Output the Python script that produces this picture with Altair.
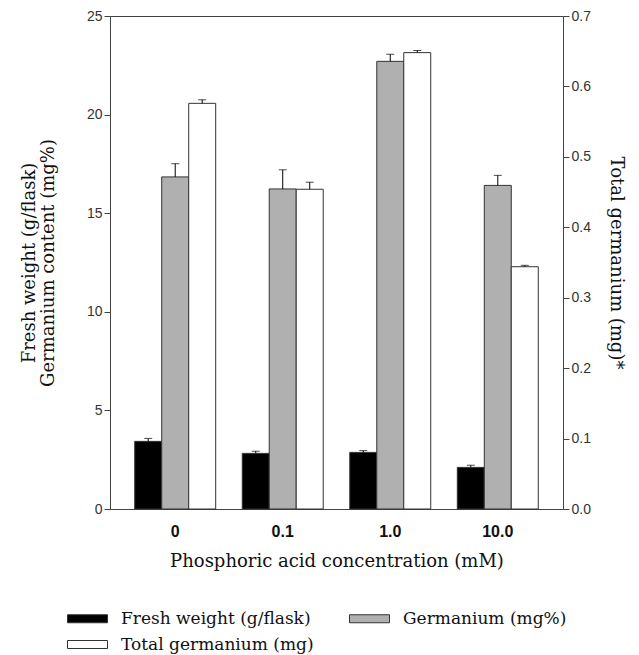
import altair as alt
import pandas as pd

concs = ["0", "0.1", "1.0", "10.0"]
series_names = ["Fresh weight (g/flask)", "Germanium (mg%)", "Total germanium (mg)"]
fresh = [3.43, 2.82, 2.87, 2.11]
fresh_err = [0.15, 0.11, 0.09, 0.11]
germ = [16.84, 16.23, 22.70, 16.41]
germ_err = [0.67, 0.97, 0.36, 0.51]
total = [0.576, 0.454, 0.648, 0.344]
total_err = [0.005, 0.010, 0.003, 0.002]
fill_colors = ["#000000", "#b0b0b0", "#ffffff"]
legend_order = [series_names[0], series_names[2], series_names[1]]

left_rows = []
for i, c in enumerate(concs):
    left_rows.append({"conc": c, "series": series_names[0], "value": fresh[i], "top": fresh[i] + fresh_err[i]})
    left_rows.append({"conc": c, "series": series_names[1], "value": germ[i], "top": germ[i] + germ_err[i]})
right_rows = [{"conc": c, "series": series_names[2], "value": total[i], "top": total[i] + total_err[i]}
              for i, c in enumerate(concs)]
left_df = pd.DataFrame(left_rows)
right_df = pd.DataFrame(right_rows)

x_enc = alt.X("conc:N", sort=concs,
              scale=alt.Scale(paddingInner=0.247, paddingOuter=0.23),
              axis=alt.Axis(title="Phosphoric acid concentration (mM)", labelAngle=0, ticks=False,
                            labelFontWeight="bold", labelFontSize=16, labelColor="#111",
                            labelPadding=14, titlePadding=13))
xo_enc = alt.XOffset("series:N", scale=alt.Scale(domain=series_names, paddingInner=0, paddingOuter=0))
fill_enc = alt.Fill("series:N", scale=alt.Scale(domain=series_names, range=fill_colors),
                    legend=alt.Legend(title=None, orient="none", legendX=-33, legendY=592, columns=2,
                                      values=legend_order,
                                      symbolType="M-2,-0.4L2,-0.4L2,0.4L-2,0.4Z", symbolSize=400,
                                      symbolStrokeColor="#333", symbolStrokeWidth=1,
                                      labelFont="DejaVu Serif", labelFontSize=17, labelColor="#111",
                                      labelOffset=23, columnPadding=33, rowPadding=7,
                                      labelLimit=400))

left_axis = alt.Axis(title=["Fresh weight (g/flask)", "Germanium content (mg%)"], values=[0, 5, 10, 15, 20, 25],
                     orient="left", titlePadding=29, titleLineHeight=19)
left_scale = alt.Scale(domain=[0, 25], nice=False)
right_axis = alt.Axis(title="Total germanium (mg)*", values=[0, 0.1, 0.2, 0.3, 0.4, 0.5, 0.6, 0.7],
                      format=".1f", orient="right", titlePadding=16, titleFontSize=18)
right_scale = alt.Scale(domain=[0, 0.7], nice=False)


def group(df, axis, scale):
    base = alt.Chart(df)
    bars = base.mark_bar(stroke="#333", strokeWidth=1).encode(
        x=x_enc, xOffset=xo_enc, fill=fill_enc,
        y=alt.Y("value:Q", scale=scale, axis=axis))
    rules = base.mark_rule(color="black", strokeWidth=1).encode(
        x=x_enc, xOffset=xo_enc,
        y=alt.Y("value:Q", scale=scale, axis=axis), y2="top:Q")
    caps = base.mark_tick(color="black", thickness=1, size=8).encode(
        x=x_enc, xOffset=xo_enc,
        y=alt.Y("top:Q", scale=scale, axis=axis))
    return alt.layer(bars, rules, caps)


chart = alt.layer(
    group(left_df, left_axis, left_scale),
    group(right_df, right_axis, right_scale),
).resolve_scale(y="independent").properties(
    width=453, height=493,
    background="white",
    autosize=alt.AutoSizeParams(type="none"),
    padding={"left": 102, "top": 8, "right": 68, "bottom": 146},
).configure_view(stroke="#444", strokeWidth=1).configure_axis(
    grid=False, labelFont="Liberation Sans", labelFontSize=14, labelColor="#333",
    domainColor="#444", tickColor="#444", tickSize=6,
    titleFont="DejaVu Serif", titleFontWeight="normal", titleFontSize=18, titleColor="#111",
)

chart.save("out.html", embed_options={"renderer": "svg", "actions": False})
